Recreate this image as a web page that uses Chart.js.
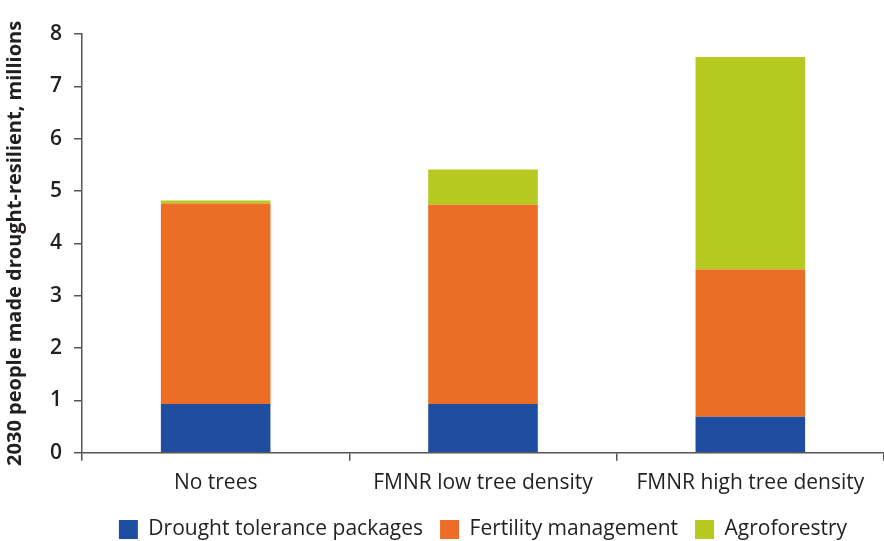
<!DOCTYPE html>
<html>
<head>
<meta charset="utf-8">
<script src="https://cdn.jsdelivr.net/npm/chart.js@4/dist/chart.umd.min.js"></script>
<style>
html,body{margin:0;padding:0;background:#fff;overflow:hidden;}
#c{display:block;}
</style>
</head>
<body>
<canvas id="c" width="884" height="541"></canvas>
<script>
const categories = ["No trees", "FMNR low tree density", "FMNR high tree density"];
const droughtTolerance = [0.93, 0.93, 0.69];
const fertilityManagement = [3.83, 3.81, 2.81];
const agroforestry = [0.06, 0.67, 4.06];
const yTicks = [0, 1, 2, 3, 4, 5, 6, 7, 8];
const yTitle = "2030 people made drought-resilient, millions";

const FONT = "'Open Sans', 'Noto Sans', sans-serif";
const axisColor = "#555555";
const textColor = "#231f20";

new Chart(document.getElementById('c'), {
  type: 'bar',
  data: {
    labels: categories,
    datasets: [
      {label: "Drought tolerance packages", data: droughtTolerance, backgroundColor: "#1f4ea1"},
      {label: "Fertility management", data: fertilityManagement, backgroundColor: "#ec6d25"},
      {label: "Agroforestry", data: agroforestry, backgroundColor: "#b6c920"}
    ]
  },
  options: {
    responsive: false,
    animation: false,
    devicePixelRatio: 1,
    layout: {padding: {left: 3, right: 0, top: 34, bottom: -9}},
    datasets: {bar: {barPercentage: 0.41, categoryPercentage: 1.0}},
    plugins: {
      legend: {
        position: 'bottom',
        fullSize: false,
        labels: {
          boxWidth: 19, boxHeight: 19, padding: 17,
          color: textColor,
          font: {family: FONT, size: 21}
        }
      },
      tooltip: {enabled: false}
    },
    scales: {
      x: {
        stacked: true,
        afterFit: (s) => { s.height -= 4; },
        grid: {display: true, drawOnChartArea: false, tickLength: 8, color: axisColor, lineWidth: 1.5, offset: true},
        border: {color: axisColor, width: 1.5},
        ticks: {color: textColor, font: {family: FONT, size: 21}, padding: 10}
      },
      y: {
        stacked: true,
        min: 0, max: 8,
        afterBuildTicks: (s) => { s.ticks = yTicks.map(v => ({value: v})); },
        grid: {display: true, drawOnChartArea: false, tickLength: 8, color: axisColor, lineWidth: 1.5},
        border: {color: axisColor, width: 1.5},
        ticks: {color: textColor, font: {family: FONT, size: 21, weight: '600'}, padding: 12},
        title: {display: true, text: yTitle, color: textColor, font: {family: FONT, size: 20, weight: 'bold'}, padding: {top: 0, bottom: 11}}
      }
    }
  }
});
</script>
</body>
</html>
